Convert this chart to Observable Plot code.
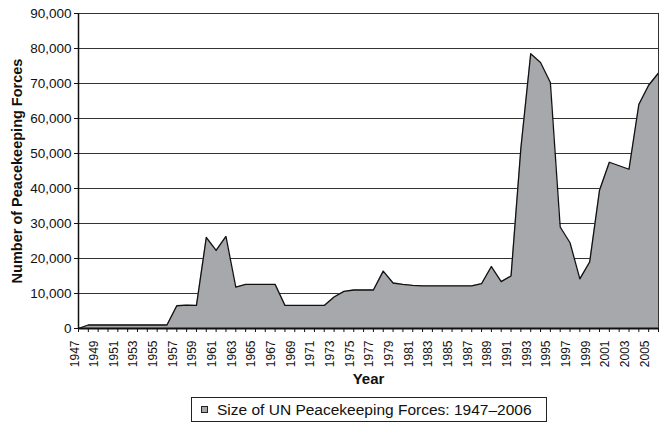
<!DOCTYPE html>
<html><head><meta charset="utf-8">
<script src="https://cdn.jsdelivr.net/npm/d3@7"></script>
<script src="https://cdn.jsdelivr.net/npm/@observablehq/plot@0.6"></script>
<style>
body{margin:0;background:#fff;font-family:"Liberation Sans",Arial,sans-serif;position:relative;width:659px;height:423px;overflow:hidden;}
#chart svg{display:block}
.legend{position:absolute;left:191px;top:397px;width:356px;height:25px;border:1px solid #222;box-sizing:border-box;display:flex;align-items:center;font-size:15.5px;color:#111;white-space:nowrap;}
.sw{display:inline-block;width:5px;height:5px;background:#a7a8ab;border:1px solid #222;margin-left:9px;margin-right:9px;}
</style></head><body>
<div id="chart"></div>
<div class="legend"><span class="sw"></span>Size of UN Peacekeeping Forces: 1947–2006</div>
<script>
const years = d3.range(1947, 2007);
const forces = [
  0, 1000, 1000, 1000, 1000, 1000, 1000, 1000, 1000, 1000,
  6500, 6700, 6600, 26000, 22300, 26300, 11800, 12600, 12600, 12600,
  12600, 6600, 6600, 6600, 6600, 6600, 9000, 10600, 11000, 11000,
  11000, 16400, 13000, 12600, 12300, 12200, 12200, 12200, 12200, 12200,
  12200, 12800, 17700, 13400, 15000, 51500, 78500, 76000, 70300, 29000,
  24500, 14200, 19000, 39500, 47500, 46500, 45500, 64000, 69500, 73000
];
const labelYears = years.filter(y => (y - 1947) % 2 === 0);
const yTicks = d3.range(0, 90001, 10000);
const yTitle = "Number of Peacekeeping Forces";
const xTitle = "Year";
const data = years.map((y, i) => ({year: y, value: forces[i]}));

const plot = Plot.plot({
  width: 659, height: 396,
  marginTop: 13, marginLeft: 78, marginRight: 1, marginBottom: 68,
  style: {fontFamily: "'Liberation Sans', Arial, sans-serif", color: "#111", background: "white", fontSize: "13px"},
  x: {domain: [1947, 2006], axis: null},
  y: {domain: [0, 90000], axis: null},
  marks: [
    Plot.gridY(yTicks, {stroke: "#333", strokeOpacity: 1, strokeWidth: 1}),
    Plot.areaY(data, {x: "year", y: "value", fill: "#a7a8ab"}),
    Plot.lineY(data, {x: "year", y: "value", stroke: "#111", strokeWidth: 1.3}),
    Plot.frame({stroke: "#333"}),
    Plot.ruleX([1947], {stroke: "#111", strokeWidth: 1.5}),
    Plot.ruleY([0], {stroke: "#111", strokeWidth: 2}),
    Plot.axisY(yTicks, {tickSize: 4, tickPadding: 3, tickFormat: d3.format(","), fontSize: 13.5, label: null, stroke: "#111"}),
    Plot.axisX(years, {tickSize: 4, tickFormat: () => "", label: null, stroke: "#111"}),
    Plot.text(labelYears, {x: d => d, text: d => String(d), frameAnchor: "bottom", dy: 12, rotate: -90, textAnchor: "end", fontSize: 12}),
    Plot.text([xTitle], {frameAnchor: "bottom", dy: 55, fontWeight: "bold", fontSize: 15}),
    Plot.text([yTitle], {frameAnchor: "left", dx: -61, rotate: -90, textAnchor: "middle", fontWeight: "bold", fontSize: 14.5})
  ]
});
document.getElementById("chart").append(plot);
</script>
</body></html>
